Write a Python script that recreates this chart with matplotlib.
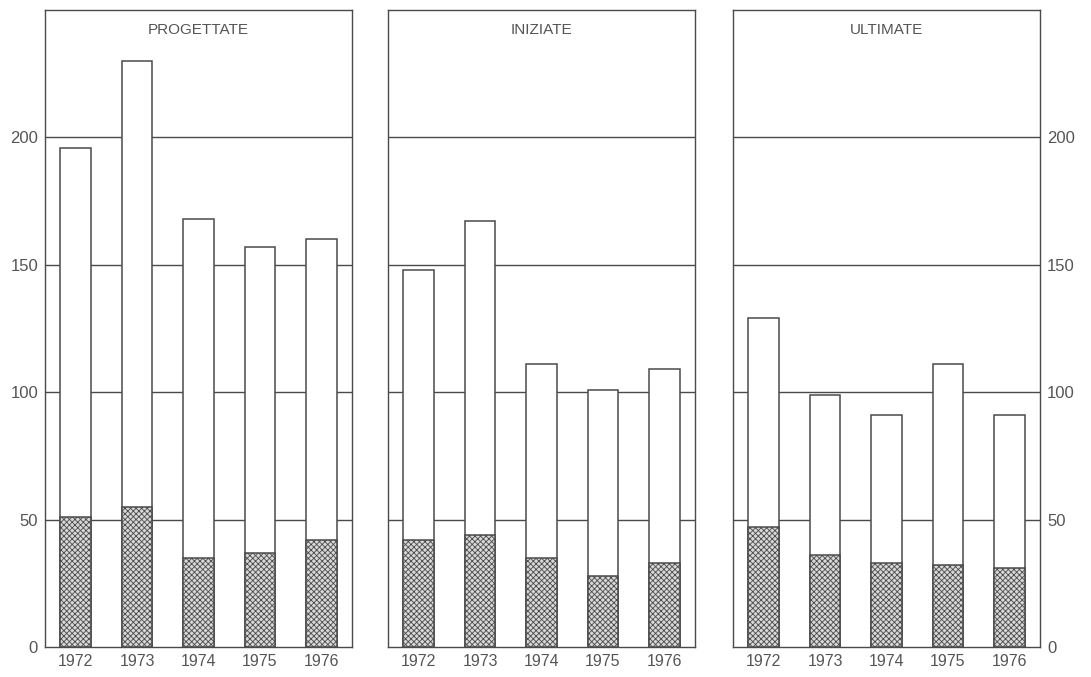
import numpy as np
import matplotlib
matplotlib.use('Agg')
import matplotlib.pyplot as plt

plt.rcParams['font.family'] = ['Liberation Sans', 'DejaVu Sans']
plt.rcParams['hatch.linewidth'] = 0.6
plt.rcParams['hatch.color'] = '#6a6a6a'

years = ['1972', '1973', '1974', '1975', '1976']
titles = ['PROGETTATE', 'INIZIATE', 'ULTIMATE']

# totali (barra intera) e quota punteggiata
progettate_tot = [196, 230, 168, 157, 160]
progettate_dot = [51, 55, 35, 37, 42]
iniziate_tot = [148, 167, 111, 101, 109]
iniziate_dot = [42, 44, 35, 28, 33]
ultimate_tot = [129, 99, 91, 111, 91]
ultimate_dot = [47, 36, 33, 32, 31]

totals = [progettate_tot, iniziate_tot, ultimate_tot]
dots = [progettate_dot, iniziate_dot, ultimate_dot]

edge = '#4a4a4a'
txt = '#555555'

fig = plt.figure(figsize=(10.91, 6.77), dpi=100)
lefts = [45 / 1091, 388 / 1091, 733 / 1091]
w = 307 / 1091
b = 30 / 677
h = 637 / 677

x = np.arange(1, 6)
for i in range(3):
    ax = fig.add_axes([lefts[i], b, w, h])
    ax.set_xlim(0.5, 5.5)
    ax.set_ylim(0, 250)
    for g in [50, 100, 150, 200]:
        ax.axhline(g, color=edge, lw=1.0, zorder=1)
    ax.bar(x, totals[i], width=0.5, facecolor='white', edgecolor=edge, lw=1.1, zorder=2)
    ax.bar(x, dots[i], width=0.5, facecolor='#d8d8d8', edgecolor=edge, lw=1.1,
           hatch='xxxxxx', zorder=3)
    for s in ax.spines.values():
        s.set_color(edge)
        s.set_linewidth(1.0)
    ax.set_xticks(x)
    ax.set_xticklabels(years, fontsize=11.5, color=txt)
    ax.tick_params(axis='both', length=0, pad=5)
    ax.set_yticks([0, 50, 100, 150, 200])
    if i == 0:
        ax.set_yticklabels(['0', '50', '100', '150', '200'], fontsize=12, color=txt)
    elif i == 2:
        ax.yaxis.tick_right()
        ax.set_yticklabels(['0', '50', '100', '150', '200'], fontsize=12, color=txt)
    else:
        ax.set_yticklabels([])
    ax.text(0.5, 0.969, titles[i], transform=ax.transAxes, ha='center', va='center',
            fontsize=11, color=txt)

fig.savefig('out.png', dpi=100)
